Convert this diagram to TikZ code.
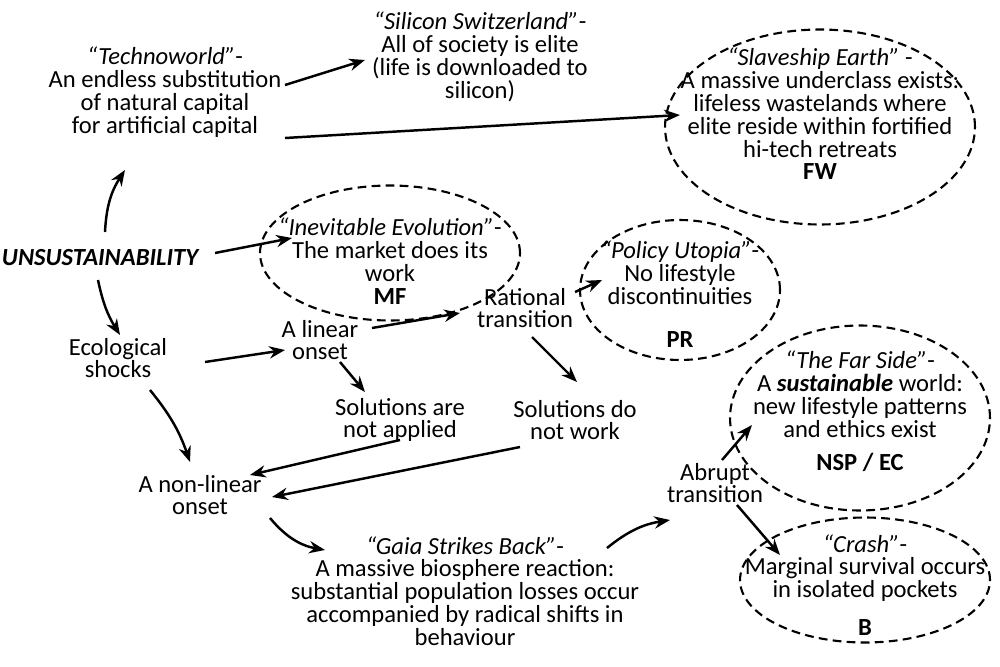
\documentclass[tikz,border=0pt]{standalone}
\usepackage{fontspec}
\setmainfont{Carlito}
\usetikzlibrary{arrows.meta,shapes.geometric,calc}
\begin{document}
\begin{tikzpicture}[x=0.02cm,y=-0.02cm,
  txt/.style={align=center,font=\fontsize{14}{13pt}\selectfont,inner sep=2pt},
  ell/.style={draw,line width=1.2pt,dash pattern=on 5pt off 3pt,ellipse},
  arr/.style={-{Stealth[length=9pt,width=7pt]},line width=1.4pt}]
\useasboundingbox (0,0) rectangle (1000,666);
\node[ell,minimum width=6.2cm,minimum height=3.9cm] (se) at (820,127) {};
\node[ell,minimum width=5.2cm,minimum height=2.7cm] (ie) at (390,253) {};
\node[ell,minimum width=4cm,minimum height=2.8cm] (pu) at (680,290) {};
\node[ell,minimum width=5.2cm,minimum height=3.7cm] (fs) at (860,418) {};
\node[ell,minimum width=5cm,minimum height=2.5cm] (cr) at (865,580) {};
\node[txt] (tw) at (165,92) {\textit{``Technoworld''}-\\An endless substitution\\of natural capital\\for artificial capital};
\node[txt] (ss) at (480,57) {\textit{``Silicon Switzerland''}-\\All of society is elite\\(life is downloaded to\\silicon)};
\node[txt] (set) at (820,114) {\textit{``Slaveship Earth''} -\\A massive underclass exists:\\lifeless wastelands where\\elite reside within fortified\\hi-tech retreats\\\textbf{FW}};
\node[txt] (iet) at (390,261) {\textit{``Inevitable Evolution''}-\\The market does its\\work\\\textbf{MF}};
\node[txt] (put) at (680,273) {\textit{``Policy Utopia''}-\\No lifestyle\\discontinuities};
\node[txt,font=\fontsize{14}{13pt}\selectfont\bfseries] (pr) at (680,340) {PR};
\node[txt] (fst) at (860,394) {\textit{``The Far Side''}-\\A \textbf{\textit{sustainable}} world:\\new lifestyle patterns\\and ethics exist};
\node[txt,font=\fontsize{14}{13pt}\selectfont\bfseries] (nsp) at (860,462) {NSP / EC};
\node[txt] (crt) at (865,568) {\textit{``Crash''}-\\Marginal survival occurs\\in isolated pockets};
\node[txt,font=\fontsize{14}{13pt}\selectfont\bfseries] (b) at (865,628) {B};
\node[txt,font=\fontsize{14}{13pt}\selectfont\bfseries\itshape] (u) at (100,258) {UNSUSTAINABILITY};
\node[txt] (ec) at (118,358) {Ecological\\shocks};
\node[txt] (lo) at (320,340) {A linear\\onset};
\node[txt] (rt) at (525,308) {Rational\\transition};
\node[txt] (sna) at (400,420) {Solutions are\\not applied};
\node[txt] (sdw) at (575,420) {Solutions do\\not work};
\node[txt] (nl) at (200,495) {A non-linear\\onset};
\node[txt] (g) at (465,591) {\textit{``Gaia Strikes Back''}-\\A massive biosphere reaction:\\substantial population losses occur\\accompanied by radical shifts in\\behaviour};
\node[txt] (ab) at (715,483) {Abrupt\\transition};
\coordinate (a1) at (105,232); \coordinate (b1) at (125,170);
\coordinate (a2) at (98,280);  \coordinate (b2) at (120,335);
\coordinate (a3) at (215,253); \coordinate (b3) at (292,238);
\coordinate (a4) at (285,85);  \coordinate (b4) at (365,60);
\coordinate (a5) at (285,138); \coordinate (b5) at (680,115);
\coordinate (a6) at (205,362); \coordinate (b6) at (285,350);
\coordinate (a7) at (150,390); \coordinate (b7) at (190,462);
\coordinate (a8) at (372,328); \coordinate (b8) at (460,313);
\coordinate (a9) at (340,362); \coordinate (b9) at (365,392);
\coordinate (a10) at (575,292); \coordinate (b10) at (602,280);
\coordinate (a11) at (532,337); \coordinate (b11) at (577,382);
\coordinate (a12) at (400,440); \coordinate (b12) at (250,475);
\coordinate (a13) at (520,447); \coordinate (b13) at (272,497);
\coordinate (a14) at (270,518); \coordinate (b14) at (325,550);
\coordinate (a15) at (607,548); \coordinate (b15) at (670,520);
\coordinate (a16) at (722,460); \coordinate (b16) at (752,425);
\coordinate (a17) at (737,505); \coordinate (b17) at (780,555);
\draw[arr] (a1) to[bend left=15] (b1);
\draw[arr] (a2) to[bend right=10] (b2);
\draw[arr] (a3) -- (b3);
\draw[arr] (a4) -- (b4);
\draw[arr] (a5) -- (b5);
\draw[arr] (a6) -- (b6);
\draw[arr] (a7) to[bend left=10] (b7);
\draw[arr] (a8) -- (b8);
\draw[arr] (a9) -- (b9);
\draw[arr] (a10) -- (b10);
\draw[arr] (a11) -- (b11);
\draw[arr] (a12) -- (b12);
\draw[arr] (a13) -- (b13);
\draw[arr] (a14) to[bend right=20] (b14);
\draw[arr] (a15) to[bend left=15] (b15);
\draw[arr] (a16) -- (b16);
\draw[arr] (a17) -- (b17);
\end{tikzpicture}
\end{document}
